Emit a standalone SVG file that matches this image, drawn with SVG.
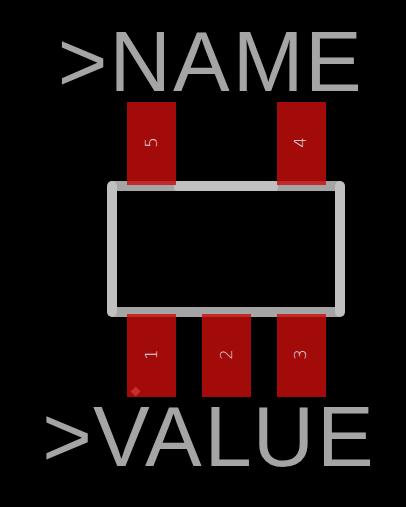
<svg xmlns="http://www.w3.org/2000/svg" width="406" height="507" viewBox="0 0 406 507">
<style>
.bg{fill:#000}
.pad{fill:#a30a0a}
.overlap{fill:#c22a2a}
.wl{stroke:#c0c0c0;stroke-width:10;stroke-linecap:round;fill:none}
.wlr{fill:#c0c0c0}
.wd{stroke:#a5a5a5;stroke-width:10;fill:none}
.big{font-family:"Liberation Sans",Arial,sans-serif;font-size:85px;fill:#a5a5a5}
.num{font-family:"DejaVu Sans",sans-serif;font-weight:200;font-size:16.500px;fill:#dcdcdc;text-anchor:middle}
</style>
<rect class="bg" width="406" height="507"/>
<g id="connectors">
<path class="wd" d="M112 186H340M112 312H340"/>
<rect class="wlr" x="174" y="181" width="104" height="10" rx="3"/>
<path class="wl" d="M112 186V312"/>
<path class="wl" d="M340 186V312"/>
</g>
<g id="pad5"><rect class="pad" x="127" y="102" width="49" height="83"/><rect class="overlap" x="127" y="181" width="49" height="4"/><text class="num" transform="translate(157 142.500) rotate(-90)">5</text></g>
<g id="pad4"><rect class="pad" x="277" y="102" width="49" height="83"/><rect class="overlap" x="277" y="181" width="49" height="4"/><text class="num" transform="translate(306 142.500) rotate(-90)">4</text></g>
<g id="pad1"><rect class="pad" x="127" y="314" width="49" height="83"/><rect class="overlap" x="127" y="314" width="49" height="3"/><text class="num" transform="translate(157 354.500) rotate(-90)">1</text><path d="M135.700 386.500l5 5-5 5-5-5z" fill="#c62e2e"/></g>
<g id="pad2"><rect class="pad" x="202" y="314" width="49" height="83"/><rect class="overlap" x="202" y="314" width="49" height="3"/><text class="num" transform="translate(232 354.500) rotate(-90)">2</text></g>
<g id="pad3"><rect class="pad" x="277" y="314" width="49" height="83"/><rect class="overlap" x="277" y="314" width="49" height="3"/><text class="num" transform="translate(306 354.500) rotate(-90)">3</text></g>
<g id="name"><text class="big" x="57.700 109.500 173 232.800 305" y="91">&gt;NAME</text></g>
<g id="value"><text class="big" x="42.200 93 145 204.600 252.800 317" y="466">&gt;VALUE</text></g>
</svg>
